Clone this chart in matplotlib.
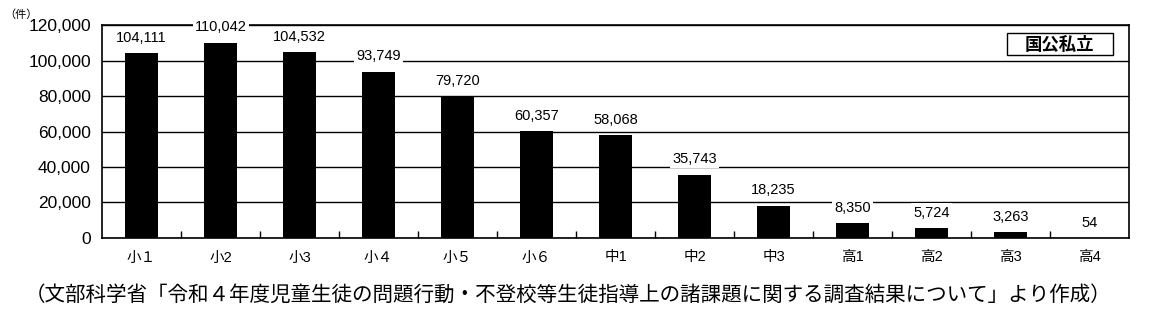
import matplotlib.pyplot as plt
from matplotlib.patches import Rectangle
import numpy as np

plt.rcParams['font.family'] = ['Liberation Sans', 'Noto Sans CJK JP', 'DejaVu Sans']

grades = ["小１", "小2", "小3", "小４", "小５", "小６", "中1", "中2", "中3", "高1", "高2", "高3", "高4"]
counts = [104111, 110042, 104532, 93749, 79720, 60357, 58068, 35743, 18235, 8350, 5724, 3263, 54]
yticks = [0, 20000, 40000, 60000, 80000, 100000, 120000]
caption = "（文部科学省「令和４年度児童生徒の問題行動・不登校等生徒指導上の諸課題に関する調査結果について」より作成）"

fig = plt.figure(figsize=(11.61, 3.30), dpi=100)
ax = fig.add_axes([0.0879, 0.2788, 0.9724 - 0.0879, 0.9242 - 0.2788])

x = np.arange(len(grades))
ax.bar(x, counts, width=0.42, color="black", zorder=3)

ax.set_xlim(-0.5, len(grades) - 0.5)
ax.set_ylim(0, 120000)
ax.set_yticks(yticks)
ax.set_yticklabels([f"{v:,}" for v in yticks], fontsize=12.5)
ax.yaxis.grid(True, color="black", linewidth=1.0, zorder=1)
ax.tick_params(axis="y", length=0, pad=8)

# category labels at centres, ticks at boundaries
ax.set_xticks(x)
ax.set_xticklabels(grades, fontsize=10.5)
ax.tick_params(axis="x", which="major", length=0, pad=9)
ax.set_xticks(np.arange(0.5, len(grades) - 1, 1), minor=True)
ax.tick_params(axis="x", which="minor", direction="in", length=5, width=1)

for s in ax.spines.values():
    s.set_linewidth(1.2)
    s.set_color("black")

for xi, v in zip(x, counts):
    ax.annotate(f"{v:,}", (xi, v), xytext=(0, 6), textcoords="offset points",
                ha="center", va="bottom", fontsize=10.5, zorder=5,
                bbox=dict(facecolor="white", edgecolor="none", pad=1.5))

# legend box
ax.add_patch(Rectangle((0.881, 0.859), 0.103, 0.103, transform=ax.transAxes,
                       facecolor="white", edgecolor="black", linewidth=1.0, zorder=6))
ax.text(0.9325, 0.9105, "国公私立", transform=ax.transAxes, ha="center", va="center",
        fontsize=12.5, fontweight="bold", zorder=7)

fig.text(0.018, 0.955, "（件）", fontsize=8, ha="center", va="center")
fig.text(0.489, 0.105, caption, fontsize=14.8, ha="center", va="center")

fig.savefig("out.png", dpi=100)
